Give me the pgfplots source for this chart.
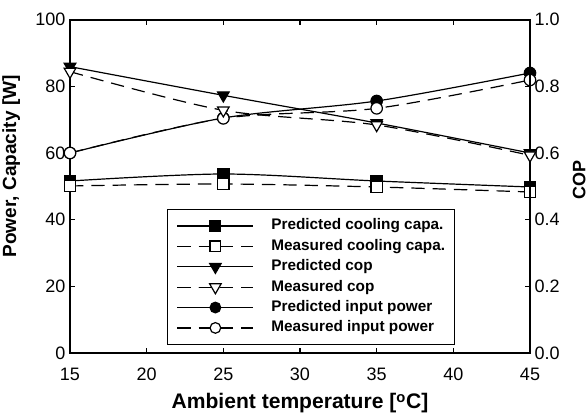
\documentclass[border=0pt]{standalone}
\usepackage{fontspec}
\setmainfont{Liberation Sans}
\usepackage{pgfplots}
\pgfplotsset{compat=1.18}
\begin{document}
\begin{tikzpicture}
\pgfplotsset{
  base/.style={
    scale only axis, width=345pt, height=250pt,
    xmin=15, xmax=45,
    axis line style={line width=1.5pt},
    tick style={line width=0.8pt, black},
    major tick length=4pt,
    tick align=inside,
    /pgf/number format/assume math mode=true,
    tick label style={font=\fontsize{13.5}{15}\selectfont},
  },
  leg/.style={legend image code/.code={\draw[mark repeat=2,mark phase=2,##1] plot coordinates {(0pt,0pt) (28.5pt,0pt) (57pt,0pt)};}},
}
\begin{axis}[base,
  ymin=0, ymax=100,
  xtick={15,20,...,45},
  ytick={0,20,...,100},
  ytick pos=left,
  xtick pos=both,
  xticklabel pos=lower,
  xticklabel style={yshift=-8pt},
  xlabel={\bfseries Ambient temperature [\textsuperscript{o}C]},
  xlabel style={font=\fontsize{15.8}{17}\selectfont, at={(axis description cs:0.5,-0.168)}, anchor=base},
  ylabel={\bfseries Power, Capacity [W]},
  ylabel style={font=\fontsize{14.3}{16}\selectfont, at={(axis description cs:-0.128,0.56)}, anchor=center, rotate=0},
]
\addplot[black, line width=0.9pt, smooth, mark=square*, mark size=4.3pt, mark options={solid, fill=black}]
  coordinates {(15,51.6) (25,53.7) (35,51.6) (45,49.8)};
\addplot[black, line width=0.9pt, smooth, dash pattern=on 10pt off 6pt, mark=square*, mark size=4.3pt, mark options={solid, fill=white}]
  coordinates {(15,50.1) (25,50.7) (35,49.8) (45,48.3)};
\addplot[black, line width=0.9pt, smooth, mark=*, mark size=4.3pt, mark options={solid, fill=black}]
  coordinates {(15,60) (25,70.5) (35,75.6) (45,84)};
\addplot[black, line width=0.9pt, smooth, dash pattern=on 10pt off 6pt, mark=*, mark size=4.3pt, mark options={solid, fill=white}]
  coordinates {(15,60) (25,70.4) (35,73.4) (45,81.9)};
\end{axis}
\begin{axis}[base,
  ymin=0, ymax=1,
  hide x axis,
  axis y line*=right,
  ytick={0,0.2,...,1.0},
  yticklabel style={/pgf/number format/fixed, /pgf/number format/fixed zerofill, /pgf/number format/precision=1},
  ylabel={\bfseries COP},
  ylabel style={font=\fontsize{13.5}{15}\selectfont, at={(axis description cs:1.107,0.52)}, anchor=center, rotate=0},
  leg,
  legend cell align=left,
  legend style={at={(axis description cs:0.211,0.024)}, anchor=south west,
    draw=black, line width=0.6pt, inner sep=7pt, row sep=4.3pt, column sep=13pt,
    font=\bfseries\fontsize{11.5}{13}\selectfont,
    nodes={inner sep=0pt, text height=8.5pt, text depth=2.5pt}},
]
\addlegendimage{black, line width=0.9pt, mark=square*, mark size=4pt, mark options={solid, fill=black}}
\addlegendentry{Predicted cooling capa.}
\addlegendimage{black, line width=0.9pt, dash pattern=on 10pt off 6pt, mark=square*, mark size=4pt, mark options={solid, fill=white}}
\addlegendentry{Measured cooling capa.}
\addplot[black, line width=0.9pt, smooth, mark=triangle*, mark size=5pt, mark options={solid, fill=black, rotate=180}]
  coordinates {(15,0.859) (25,0.773) (35,0.69) (45,0.60)};
\addlegendentry{Predicted cop}
\addplot[black, line width=0.9pt, smooth, dash pattern=on 10pt off 6pt, mark=triangle*, mark size=5pt, mark options={solid, fill=white, rotate=180}]
  coordinates {(15,0.844) (25,0.728) (35,0.684) (45,0.593)};
\addlegendentry{Measured cop}
\addlegendimage{black, line width=0.9pt, mark=*, mark size=4pt, mark options={solid, fill=black}}
\addlegendentry{Predicted input power}
\addlegendimage{black, line width=0.9pt, dash pattern=on 10pt off 6pt, mark=*, mark size=4pt, mark options={solid, fill=white}}
\addlegendentry{Measured input power}
\end{axis}
\pgfresetboundingbox
\path[use as bounding box] (-52.5pt,-47.25pt) rectangle (388.5pt,264.75pt);
\end{tikzpicture}
\end{document}
